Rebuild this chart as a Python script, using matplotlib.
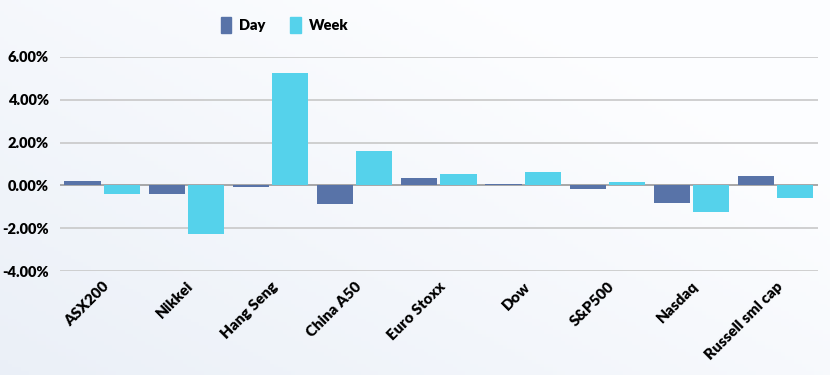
import numpy as np
import matplotlib
matplotlib.use("Agg")
import matplotlib.pyplot as plt
from matplotlib.patches import Patch
from matplotlib.ticker import FuncFormatter

categories = ["ASX200", "Nikkei", "Hang Seng", "China A50", "Euro Stoxx", "Dow", "S&P500", "Nasdaq", "Russell sml cap"]
day = [0.19, -0.39, -0.06, -0.89, 0.36, 0.08, -0.19, -0.83, 0.45]
week = [-0.42, -2.29, 5.23, 1.59, 0.51, 0.62, 0.14, -1.25, -0.59]
yticks = [-4, -2, 0, 2, 4, 6]

day_color = "#5873A8"
week_color = "#55D2EB"

plt.rcParams['font.family'] = ['Lato', 'DejaVu Sans']

fig = plt.figure(figsize=(8.3, 3.75), dpi=100)

# background gradient
bg = fig.add_axes([0, 0, 1, 1], zorder=-10)
xx, yy = np.meshgrid(np.linspace(0, 1, 200), np.linspace(0, 1, 100))
g = np.clip(0.7 * xx + 0.6 * (1 - yy), 0, 1)
c0 = np.array([0.92, 0.94, 0.97])
c1 = np.array([0.99, 0.993, 1.0])
img = c0[None, None, :] * (1 - g[..., None]) + c1[None, None, :] * g[..., None]
bg.imshow(np.clip(img, 0, 1), aspect='auto', extent=[0, 1, 0, 1], origin='upper')
bg.axis('off')

ax = fig.add_axes([0.0723, 0.2773, 0.913, 0.5707])
ax.set_facecolor('none')

x = np.arange(len(categories))
w = 0.43
off = w / 2 + 0.018
ax.bar(x - off, day, width=w, color=day_color, zorder=3)
ax.bar(x + off, week, width=w, color=week_color, zorder=3)

ax.set_xlim(-0.5, len(categories) - 0.5)
ax.set_ylim(-4, 6)
ax.set_yticks(yticks)
ax.yaxis.set_major_formatter(FuncFormatter(lambda v, p: f"{v:.2f}%"))
for yv in yticks:
    ax.axhline(yv, color="#999999" if yv == 0 else "#c8c8c8", lw=1.2, zorder=1)

for s in ax.spines.values():
    s.set_visible(False)
ax.tick_params(axis='both', length=0)
ax.tick_params(axis='y', pad=8)
for lbl in ax.get_yticklabels():
    lbl.set_fontweight('heavy')
    lbl.set_fontsize(10.5)

ax.set_xticks(x)
ax.set_xticklabels(categories, rotation=45, ha='right', rotation_mode='anchor',
                   fontsize=11, fontweight='heavy')
ax.tick_params(axis='x', pad=6)

handles = [Patch(color=day_color, label="Day"), Patch(color=week_color, label="Week")]
fig.legend(handles=handles, loc='center', bbox_to_anchor=(0.343, 0.933), ncol=2,
           frameon=False, prop={'weight': 'heavy', 'size': 10.5},
           handlelength=0.7, handleheight=1.3, columnspacing=1.7, handletextpad=0.55)

fig.savefig("out.png", dpi=100)
